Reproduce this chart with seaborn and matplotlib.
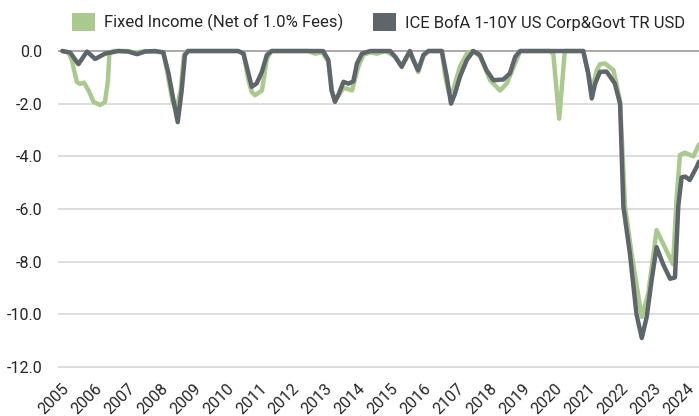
import pandas as pd
import matplotlib
matplotlib.use("Agg")
import matplotlib.pyplot as plt
import seaborn as sns
from matplotlib.patches import Patch
from matplotlib import font_manager

# drawdown series (decimal year, %)
fi_years = [2004.70, 2004.88, 2004.99, 2005.14, 2005.24, 2005.36, 2005.50, 2005.65, 2005.85, 2006.00,
            2006.09, 2006.13, 2006.25, 2006.70, 2006.91, 2007.22, 2007.77, 2007.90, 2008.05, 2008.16,
            2008.30, 2008.40, 2008.50, 2010.05, 2010.21, 2010.36, 2010.46, 2010.56, 2010.77, 2010.92,
            2011.05, 2012.17, 2012.39, 2012.60, 2012.79, 2012.89, 2012.99, 2013.09, 2013.25, 2013.40,
            2013.51, 2013.70, 2013.85, 2014.06, 2014.27, 2014.52, 2014.82, 2015.02, 2015.17, 2015.27,
            2015.37, 2015.52, 2015.68, 2015.83, 2016.24, 2016.35, 2016.46, 2016.58, 2016.79, 2017.00,
            2017.16, 2017.40, 2017.71, 2018.01, 2018.21, 2018.47, 2018.62, 2019.53, 2019.63, 2019.73,
            2019.81, 2019.88, 2019.98, 2020.54, 2020.69, 2020.80, 2020.95, 2021.05, 2021.20, 2021.46,
            2021.66, 2021.81, 2022.01, 2022.32, 2022.52, 2022.77, 2023.02, 2023.27, 2023.38, 2023.48,
            2023.63, 2023.89, 2024.06]
fi_values = [0.0, -0.05, -0.34, -1.17, -1.25, -1.2, -1.5, -1.93, -2.05, -1.93,
             -1.1, -0.1, 0.0, 0.0, -0.06, 0.0, -0.05, -0.85, -1.9, -2.25,
             -1.5, -0.15, 0.0, 0.0, -0.1, -1.1, -1.55, -1.68, -1.5, -0.3,
             0.0, 0.0, -0.1, -0.05, -0.4, -1.5, -1.85, -1.7, -1.4, -1.45,
             -1.5, -0.6, -0.15, -0.05, -0.1, 0.0, -0.2, -0.55, -0.28, -0.02,
             -0.3, -0.8, -0.2, 0.0, 0.0, -1.0, -1.6, -1.5, -0.6, -0.1,
             0.0, -0.2, -1.11, -1.5, -1.24, -0.47, 0.0, 0.0, -0.1, -1.5,
             -2.57, -1.5, 0.0, 0.0, -0.8, -1.5, -0.73, -0.5, -0.47, -0.73,
             -1.9, -5.9, -7.7, -10.1, -9.2, -6.8, -7.45, -8.1, -5.6, -3.95,
             -3.86, -4.0, -3.55]

ice_years = [2004.70, 2004.94, 2005.19, 2005.45, 2005.70, 2006.00, 2006.40, 2006.70, 2006.97, 2007.22,
             2007.52, 2007.77, 2007.93, 2008.08, 2008.21, 2008.33, 2008.43, 2008.53, 2010.05, 2010.21,
             2010.36, 2010.46, 2010.61, 2010.77, 2010.92, 2011.07, 2012.63, 2012.79, 2012.89, 2012.99,
             2013.09, 2013.25, 2013.40, 2013.55, 2013.66, 2013.81, 2014.06, 2014.67, 2014.82, 2015.02,
             2015.17, 2015.27, 2015.37, 2015.52, 2015.68, 2015.83, 2016.24, 2016.39, 2016.52, 2016.64,
             2016.79, 2017.00, 2017.20, 2017.40, 2017.60, 2017.81, 2018.11, 2018.31, 2018.47, 2018.62,
             2020.54, 2020.69, 2020.80, 2020.90, 2021.05, 2021.25, 2021.50, 2021.66, 2021.76, 2021.96,
             2022.16, 2022.32, 2022.47, 2022.62, 2022.77, 2022.97, 2023.18, 2023.33, 2023.43, 2023.53,
             2023.64, 2023.78, 2023.99, 2024.06]
ice_values = [0.0, -0.06, -0.5, -0.02, -0.3, -0.1, 0.0, -0.02, -0.12, -0.02,
              0.0, -0.05, -0.85, -1.87, -2.7, -1.5, -0.15, 0.0, 0.0, -0.1,
              -0.85, -1.36, -1.23, -0.79, -0.15, 0.0, 0.0, -0.34, -1.5, -1.93,
              -1.68, -1.17, -1.24, -1.15, -0.47, -0.1, 0.0, 0.0, -0.22, -0.6,
              -0.22, 0.0, -0.34, -0.73, -0.15, 0.0, 0.0, -0.98, -2.0, -1.62,
              -0.98, -0.34, 0.0, -0.15, -0.73, -1.11, -1.08, -0.85, -0.22, 0.0,
              0.0, -0.85, -1.8, -1.24, -0.79, -0.78, -1.23, -2.0, -5.9, -7.7,
              -10.0, -10.9, -10.1, -8.7, -7.45, -8.1, -8.65, -8.6, -5.9, -4.8,
              -4.77, -4.9, -4.4, -4.2]

series_names = ["Fixed Income (Net of 1.0% Fees)", "ICE BofA 1-10Y US Corp&Govt TR USD"]
series_colors = ["#a9c98e", "#5e666b"]
tick_years = list(range(2005, 2025))
tick_labels = ["2005", "2006", "2007", "2008", "2009", "2010", "2011", "2012", "2013", "2014",
               "2015", "2016", "2107", "2018", "2019", "2020", "2021", "2022", "2023", "2024"]
y_ticks = [0, -2, -4, -6, -8, -10, -12]

df = pd.concat([
    pd.DataFrame({"year": fi_years, "drawdown": fi_values, "series": series_names[0]}),
    pd.DataFrame({"year": ice_years, "drawdown": ice_values, "series": series_names[1]}),
])

# narrow font if present, else Roboto
names = {f.name for f in font_manager.fontManager.ttflist}
narrow = "Liberation Sans Narrow" in names
print("narrow font:", narrow)

sns.set_style("white")
if narrow:
    plt.rcParams["font.family"] = ["Liberation Sans Narrow", "DejaVu Sans"]
    tick_fs, leg_fs = 14, 13.5
else:
    plt.rcParams["font.family"] = ["Roboto", "DejaVu Sans"]
    tick_fs, leg_fs = 11.5, 12
plt.rcParams["axes.unicode_minus"] = False

fig = plt.figure(figsize=(6.99, 4.16), dpi=100)
ax = fig.add_axes([0.083, 0.1147, 0.917, 0.7848])

for y in y_ticks:
    ax.axhline(y, color="#a3a3a3" if y == 0 else "#dadada", lw=1.3, zorder=0)

sns.lineplot(data=df, x="year", y="drawdown", hue="series", palette=series_colors,
             estimator=None, sort=False, lw=3.2, legend=False, ax=ax,
             solid_joinstyle="round", solid_capstyle="round")

ax.set_xlim(2004.57, 2024.06)
ax.set_ylim(-12.05, 0.35)
ax.set_xticks(tick_years)
ax.set_xticklabels(tick_labels, rotation=45, ha="right", fontsize=tick_fs)
ax.set_yticks(y_ticks)
ax.set_yticklabels([f"{v:.1f}" for v in y_ticks], fontsize=tick_fs)
ax.tick_params(axis="x", length=0, pad=9)
ax.tick_params(axis="y", length=0, pad=11)
ax.set_xlabel("")
ax.set_ylabel("")
for s in ax.spines.values():
    s.set_visible(False)

handles = [Patch(facecolor=c, edgecolor="none") for c in series_colors]
ax.legend(handles, series_names, loc="center", bbox_to_anchor=(0.5, 1.06), ncol=2,
          frameon=False, fontsize=leg_fs, handlelength=1.35, handleheight=1.25,
          handletextpad=0.55, columnspacing=1.8)

fig.savefig("out.png", dpi=100)
